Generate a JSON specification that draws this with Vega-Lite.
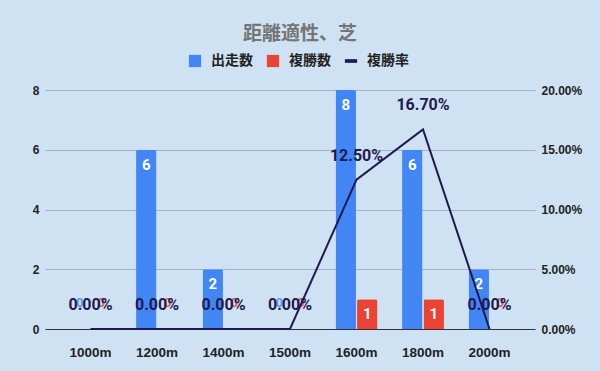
{
  "$schema": "https://vega.github.io/schema/vega-lite/v6.json",
  "width": 490,
  "height": 239,
  "autosize": "none",
  "padding": {"left": 45, "top": 90, "right": 65, "bottom": 42},
  "background": "#cfe2f3",
  "config": {
    "view": {"stroke": null},
    "font": "Roboto",
    "axis": {"labelFont": "Liberation Sans", "labelFontWeight": "bold", "labelFontSize": 12, "labelColor": "#222222", "ticks": false, "title": null}
  },
  "title": {
    "text": "距離適性、芝",
    "font": "Noto Sans CJK JP",
    "fontSize": 19,
    "fontWeight": "bold",
    "color": "#757575",
    "anchor": "middle",
    "frame": "group",
    "dx": 10,
    "offset": 10
  },
  "data": {
    "values": [
      {"距離": "1000m", "出走数": 0, "複勝数": 0, "複勝率": 0},
      {"距離": "1200m", "出走数": 6, "複勝数": 0, "複勝率": 0},
      {"距離": "1400m", "出走数": 2, "複勝数": 0, "複勝率": 0},
      {"距離": "1500m", "出走数": 0, "複勝数": 0, "複勝率": 0},
      {"距離": "1600m", "出走数": 8, "複勝数": 1, "複勝率": 0.125},
      {"距離": "1800m", "出走数": 6, "複勝数": 1, "複勝率": 0.167},
      {"距離": "2000m", "出走数": 2, "複勝数": 0, "複勝率": 0}
    ]
  },
  "encoding": {
    "x": {
      "field": "距離",
      "type": "nominal",
      "sort": null,
      "scale": {"paddingInner": 0.37, "paddingOuter": 0.369},
      "axis": {"labelAngle": 0, "domain": true, "domainColor": "#333333", "domainWidth": 1.2, "labelPadding": 16, "labelFontSize": 13.5, "grid": false}
    }
  },
  "layer": [
    {
      "transform": [{"fold": ["出走数", "複勝数"], "as": ["k", "v"]}],
      "layer": [
        {
          "mark": {"type": "bar", "cornerRadiusTopLeft": 2, "cornerRadiusTopRight": 2},
          "encoding": {
            "xOffset": {"field": "k", "type": "nominal", "scale": {"paddingInner": 0.05}},
            "y": {
              "field": "v",
              "type": "quantitative",
              "scale": {"domain": [0, 8]},
              "axis": {"values": [0, 2, 4, 6, 8], "domain": false, "gridColor": "#a3b1c2", "labelPadding": 6}
            },
            "color": {
              "field": "k",
              "type": "nominal",
              "scale": {"domain": ["出走数", "複勝数", "複勝率"], "range": ["#4285f4", "#ea4335", "#1f1a4f"]},
              "legend": {
                "orient": "none",
                "legendX": 143,
                "legendY": -36,
                "direction": "horizontal",
                "title": null,
                "symbolType": "square",
                "symbolSize": 150,
                "symbolStrokeWidth": 0,
                "labelFont": "Noto Sans CJK JP",
                "labelFontSize": 14,
                "labelFontWeight": "bold",
                "labelColor": "#222222",
                "columnPadding": 13,
                "labelOffset": 9,
                "encode": {
                  "symbols": {
                    "update": {
                      "shape": {"signal": "datum.value === '複勝率' ? 'M-1,-0.3H1V0.3H-1Z' : 'square'"},
                      "fill": {"signal": "datum.value === '出走数' ? '#4285f4' : datum.value === '複勝数' ? '#ea4335' : '#1f1a4f'"}
                    }
                  }
                }
              }
            }
          }
        },
        {
          "transform": [{"filter": "datum.v > 0"}],
          "mark": {"type": "text", "color": "white", "fontWeight": "bold", "fontSize": 15, "baseline": "middle", "dy": 15},
          "encoding": {
            "xOffset": {"field": "k", "type": "nominal", "scale": {"paddingInner": 0.05}},
            "y": {"field": "v", "type": "quantitative"},
            "text": {"field": "v", "type": "quantitative"}
          }
        },
        {
          "transform": [{"filter": "datum.v == 0"}],
          "mark": {"type": "text", "fontWeight": "bold", "fontSize": 13, "baseline": "middle", "dy": -26, "opacity": 0.8},
          "encoding": {
            "xOffset": {"field": "k", "type": "nominal", "scale": {"paddingInner": 0.05}},
            "y": {"field": "v", "type": "quantitative"},
            "text": {"field": "v", "type": "quantitative"},
            "color": {"field": "k", "type": "nominal", "legend": null}
          }
        }
      ]
    },
    {
      "layer": [
        {
          "mark": {"type": "line", "strokeWidth": 2},
          "encoding": {
            "y": {
              "field": "複勝率",
              "type": "quantitative",
              "scale": {"domain": [0, 0.2]},
              "axis": {"orient": "right", "format": ".2%", "values": [0, 0.05, 0.1, 0.15, 0.2], "grid": false, "domain": false, "labelPadding": 6}
            },
            "color": {"datum": "複勝率"}
          }
        },
        {
          "mark": {"type": "text", "fontWeight": "bold", "fontSize": 16, "baseline": "middle", "dy": -24, "color": "#1f1a4f"},
          "encoding": {
            "y": {"field": "複勝率", "type": "quantitative"},
            "text": {"field": "複勝率", "type": "quantitative", "format": ".2%"}
          }
        }
      ]
    }
  ],
  "resolve": {"scale": {"y": "independent"}}
}
